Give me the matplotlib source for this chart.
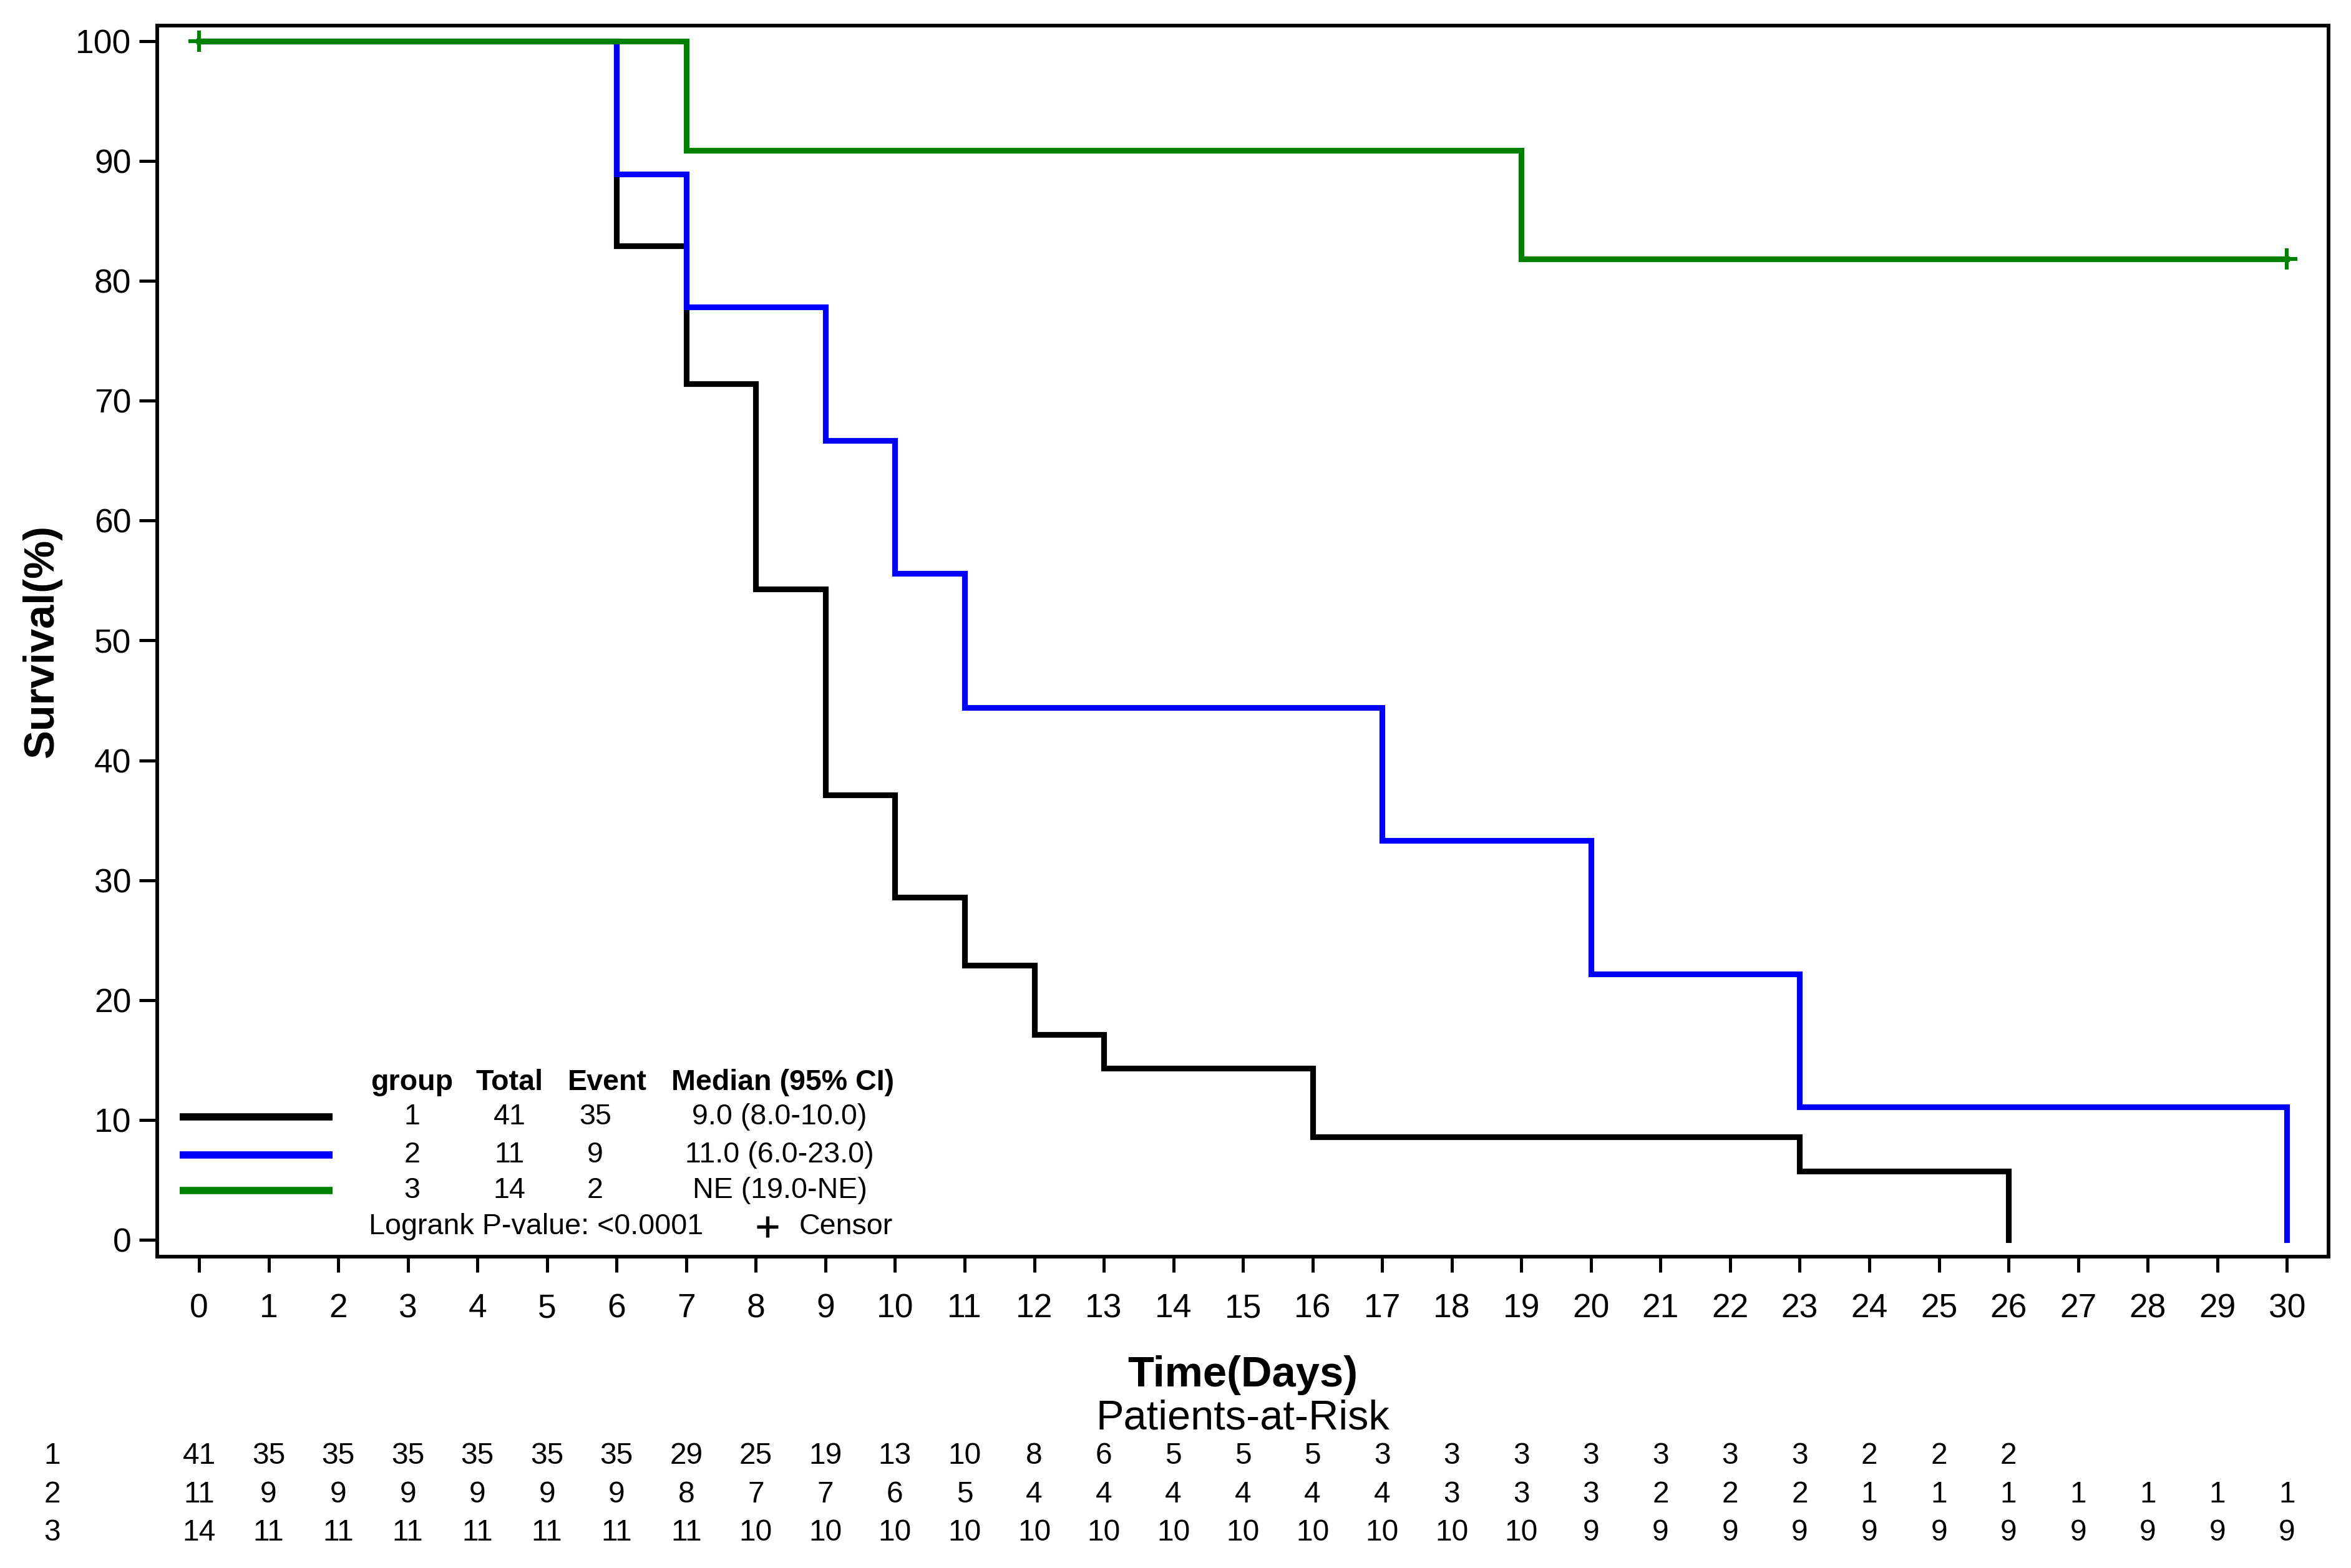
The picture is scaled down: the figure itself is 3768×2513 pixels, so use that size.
import matplotlib
matplotlib.use("Agg")
import matplotlib.pyplot as plt
import matplotlib.transforms as mtransforms
import numpy as np

plt.rcParams["font.family"] = ["Liberation Sans Narrow", "Liberation Sans", "DejaVu Sans"]

# Kaplan-Meier steps (time where each level starts, survival %)
g1_times = [0, 6, 7, 8, 9, 10, 11, 12, 13, 16, 23, 26]
g1_surv = [100, 82.9, 71.4, 54.3, 37.1, 28.6, 22.9, 17.1, 14.3, 8.6, 5.7, 0]
g2_times = [0, 6, 7, 9, 10, 11, 17, 20, 23, 30]
g2_surv = [100, 88.9, 77.8, 66.7, 55.6, 44.4, 33.3, 22.2, 11.1, 0]
g3_times = [0, 7, 19, 30]
g3_surv = [100, 90.9, 81.8, 81.8]
g3_censor_t = [0, 30]
g3_censor_s = [100, 81.8]

# legend table
groups = ["1", "2", "3"]
totals = ["41", "11", "14"]
events = ["35", "9", "2"]
medians = ["9.0 (8.0-10.0)", "11.0 (6.0-23.0)", "NE (19.0-NE)"]
colors = ["black", "#0000ff", "#008000"]

# patients at risk, by day
risk_days = list(range(0, 31))
risk_g1 = [41, 35, 35, 35, 35, 35, 35, 29, 25, 19, 13, 10, 8, 6, 5, 5, 5, 3, 3, 3, 3, 3, 3, 3, 2, 2, 2]
risk_g2 = [11, 9, 9, 9, 9, 9, 9, 8, 7, 7, 6, 5, 4, 4, 4, 4, 4, 4, 3, 3, 3, 2, 2, 2, 1, 1, 1, 1, 1, 1, 1]
risk_g3 = [14, 11, 11, 11, 11, 11, 11, 11, 10, 10, 10, 10, 10, 10, 10, 10, 10, 10, 10, 10,
           9, 9, 9, 9, 9, 9, 9, 9, 9, 9, 9]

fig = plt.figure(figsize=(12.56, 8.377), dpi=300)
ax = fig.add_axes([0.0669, 0.1986, 0.9236, 0.7851])

lw = 2.2
ax.step(g1_times, g1_surv, where="post", color=colors[0], lw=lw, solid_joinstyle="miter")
ax.step(g2_times, g2_surv, where="post", color=colors[1], lw=lw, solid_joinstyle="miter")
ax.step(g3_times, g3_surv, where="post", color=colors[2], lw=lw, solid_joinstyle="miter")
ax.plot(g3_censor_t, g3_censor_s, ls="none", marker="+", ms=8, mew=1.5, color=colors[2])

ax.set_xlim(-0.6, 30.6)
ax.set_ylim(-1.4, 101.3)
ax.set_xticks(np.arange(0, 31))
ax.set_yticks(np.arange(0, 101, 10))
ax.tick_params(axis="x", length=6, width=1.2, pad=8, labelsize=12.8)
ax.tick_params(axis="y", length=7, width=1.2, pad=3, labelsize=12.8)
for s in ax.spines.values():
    s.set_linewidth(1.4)

ax.set_ylabel("Survival(%)", fontsize=16.5, fontweight="bold")
ax.yaxis.set_label_coords(-0.044, 0.5)
fig.text(0.5 * (0.0669 + 0.9905), 0.123, "Time(Days)", ha="center", va="center",
         fontsize=16.5, fontweight="bold")
fig.text(0.5 * (0.0669 + 0.9905), 0.0954, "Patients-at-Risk", ha="center", va="center",
         fontsize=16)

# legend block inside the axes
fs_leg = 11.2
line_y = [0.1133, 0.0828, 0.0536]
ax.text(0.1174, 0.1413, "group", transform=ax.transAxes, ha="center", va="center",
        fontsize=fs_leg, fontweight="bold")
ax.text(0.1623, 0.1413, "Total", transform=ax.transAxes, ha="center", va="center",
        fontsize=fs_leg, fontweight="bold")
ax.text(0.2072, 0.1413, "Event", transform=ax.transAxes, ha="center", va="center",
        fontsize=fs_leg, fontweight="bold")
ax.text(0.288, 0.1413, "Median (95% CI)", transform=ax.transAxes, ha="center", va="center",
        fontsize=fs_leg, fontweight="bold")
for i in range(3):
    y = line_y[i]
    ax.plot([0.0104, 0.0808], [y, y], transform=ax.transAxes, color=colors[i], lw=2.8,
            solid_capstyle="butt")
    ax.text(0.1174, y, groups[i], transform=ax.transAxes, ha="center", va="center", fontsize=fs_leg)
    ax.text(0.1623, y, totals[i], transform=ax.transAxes, ha="center", va="center", fontsize=fs_leg)
    ax.text(0.2017, y, events[i], transform=ax.transAxes, ha="center", va="center", fontsize=fs_leg)
    ax.text(0.2866, y, medians[i], transform=ax.transAxes, ha="center", va="center", fontsize=fs_leg)
ax.text(0.0974, 0.0244, "Logrank P-value: <0.0001", transform=ax.transAxes, ha="left",
        va="center", fontsize=fs_leg)
ax.plot([0.281], [0.0244], transform=ax.transAxes, marker="+", ms=8, mew=1.3, color="black")
ax.text(0.2956, 0.0244, "Censor", transform=ax.transAxes, ha="left", va="center", fontsize=fs_leg)

# patients-at-risk table below
trans = mtransforms.blended_transform_factory(ax.transData, fig.transFigure)
row_y = [0.0716, 0.0466, 0.0227]
for i, row in enumerate([risk_g1, risk_g2, risk_g3]):
    fig.text(0.0223, row_y[i], groups[i], ha="center", va="center", fontsize=11.5)
    for d, n in zip(risk_days, row):
        ax.text(d, row_y[i], str(n), transform=trans, ha="center", va="center",
                fontsize=11.5, clip_on=False)

fig.savefig("out.png", dpi=300)
